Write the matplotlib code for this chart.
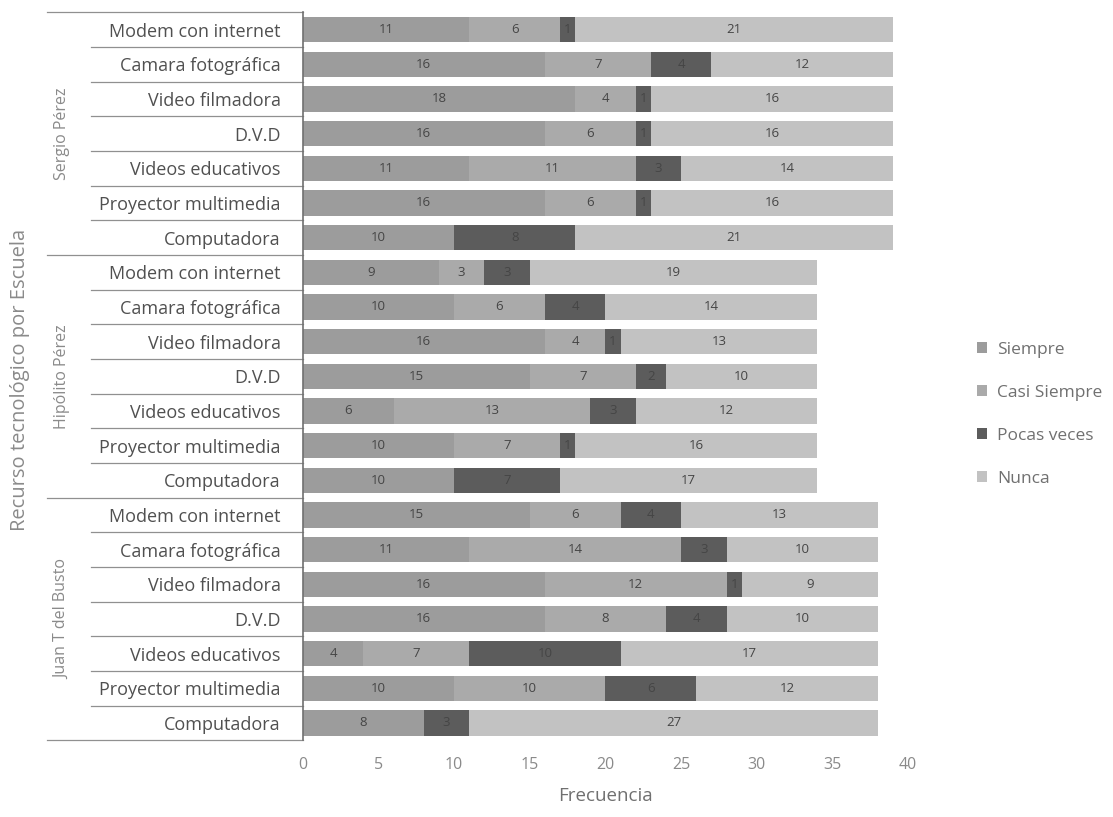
import matplotlib.pyplot as plt
import numpy as np

plt.rcParams['font.family'] = ['Open Sans', 'DejaVu Sans']

# rows top to bottom within each school
recursos = ["Modem con internet", "Camara fotográfica", "Video filmadora", "D.V.D",
            "Videos educativos", "Proyector multimedia", "Computadora"]
escuelas = ["Sergio Pérez", "Hipólito Pérez", "Juan T del Busto"]
series = ["Siempre", "Casi Siempre", "Pocas veces", "Nunca"]

siempre = [11, 16, 18, 16, 11, 16, 10,
           9, 10, 16, 15, 6, 10, 10,
           15, 11, 16, 16, 4, 10, 8]
casi_siempre = [6, 7, 4, 6, 11, 6, 0,
                3, 6, 4, 7, 13, 7, 0,
                6, 14, 12, 8, 7, 10, 0]
pocas_veces = [1, 4, 1, 1, 3, 1, 8,
               3, 4, 1, 2, 3, 1, 7,
               4, 3, 1, 4, 10, 6, 3]
nunca = [21, 12, 16, 16, 14, 16, 21,
         19, 14, 13, 10, 12, 16, 17,
         13, 10, 9, 10, 17, 12, 27]

colores = ['#9c9c9c', '#aaaaaa', '#5c5c5c', '#c2c2c2']

fig = plt.figure(figsize=(11.13, 8.17), dpi=100)
ax = fig.add_axes([0.272, 0.094, 0.544, 0.891])

n = len(siempre)
y = np.arange(n)
left = np.zeros(n)
for vals, name, c in zip([siempre, casi_siempre, pocas_veces, nunca], series, colores):
    vals = np.array(vals)
    ax.barh(y, vals, left=left, height=0.73, color=c, label=name)
    for yi, l, v in zip(y, left, vals):
        if v > 0:
            ax.text(l + v / 2, yi, str(v), ha='center', va='center', fontsize=9.5,
                    color='#454545')
    left = left + vals

ax.set_ylim(n - 0.5, -0.5)
ax.set_xlim(0, 40)
ax.set_xticks(np.arange(0, 41, 5))
ax.tick_params(axis='x', length=0, labelsize=11.5, labelcolor='#8a8a8a', pad=12)
ax.set_yticks(y)
ax.set_yticklabels(recursos * 3, fontsize=13, color='#505050')
ax.tick_params(axis='y', length=0, pad=16)
for s in ['top', 'right', 'bottom']:
    ax.spines[s].set_visible(False)
ax.spines['left'].set_color('#707070')
ax.spines['left'].set_linewidth(1.2)
ax.set_xlabel('Frecuencia', fontsize=13.5, color='#707070', labelpad=10)

# separator lines between the category labels
trans = ax.get_yaxis_transform()
for k in range(n + 1):
    yy = k - 0.5
    x0 = -0.349 if k % 7 else -0.423
    ax.plot([x0, 0], [yy, yy], transform=trans, color='#909090', lw=0.9, clip_on=False)

for g, esc in enumerate(escuelas):
    ax.text(-0.398, g * 7 + 3, esc, transform=trans, rotation=90, ha='center',
            va='center', fontsize=11.5, color='#8a8a8a')
fig.text(0.018, 0.535, 'Recurso tecnológico por Escuela', rotation=90, ha='center',
         va='center', fontsize=14.5, color='#8a8a8a')

fig.legend(loc='center left', bbox_to_anchor=(0.872, 0.493), frameon=False,
           fontsize=12.5, labelcolor='#707070', handlelength=0.55, handleheight=0.55,
           labelspacing=1.55, handletextpad=0.6, borderaxespad=0)

fig.savefig('out.png', dpi=100)
